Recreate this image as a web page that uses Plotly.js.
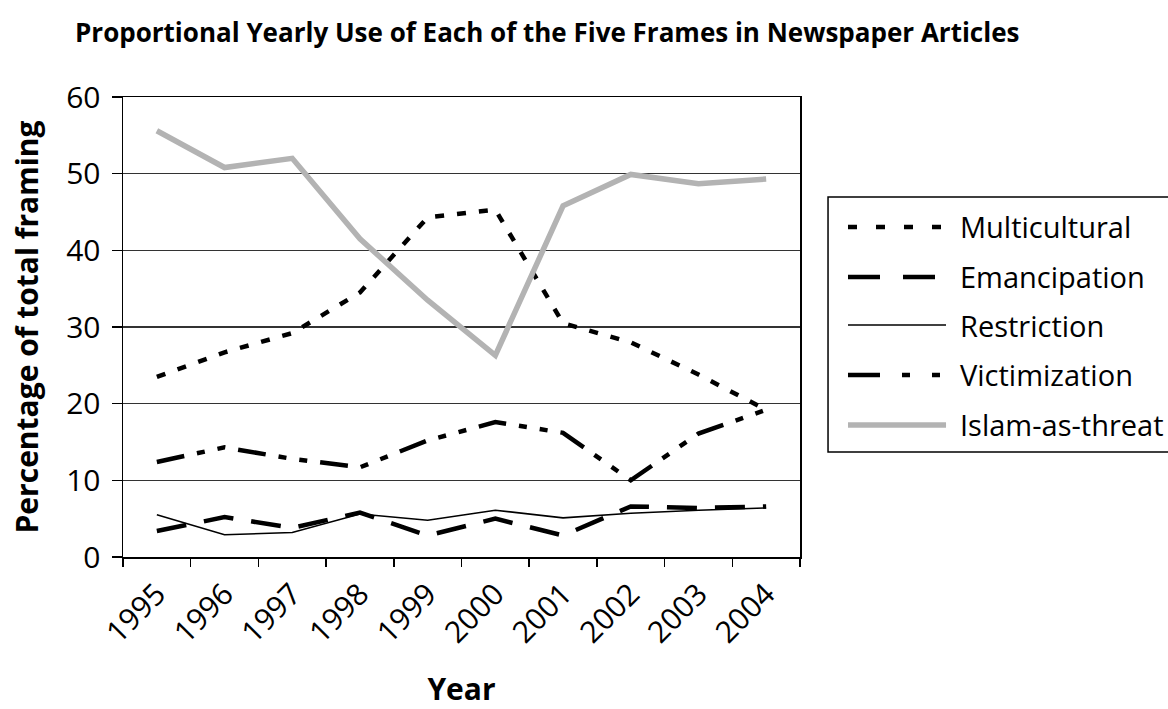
<!DOCTYPE html>
<html>
<head>
<meta charset="utf-8">
<script src="https://cdn.plot.ly/plotly-3.0.1.min.js"></script>
<style>html,body{margin:0;padding:0;background:#fff;}#chart{width:1168px;height:709px;}</style>
</head>
<body>
<div id="chart"></div>
<script>
const years = ["1995","1996","1997","1998","1999","2000","2001","2002","2003","2004"];
const multicultural = [23.5, 26.7, 29.2, 34.5, 44.3, 45.3, 30.5, 28.0, 23.8, 19.2];
const emancipation  = [3.4, 5.2, 3.8, 5.8, 2.8, 5.0, 2.8, 6.6, 6.4, 6.6];
const restriction   = [5.5, 2.9, 3.2, 5.6, 4.8, 6.1, 5.1, 5.7, 6.1, 6.4];
const victimization = [12.4, 14.3, 12.8, 11.7, 15.2, 17.6, 16.2, 10.0, 16.1, 19.2];
const islamThreat   = [55.6, 50.8, 52.0, 41.5, 33.5, 26.3, 45.8, 49.9, 48.7, 49.3];
const seriesNames = ["Multicultural","Emancipation","Restriction","Victimization","Islam-as-threat"];

const FONT = "Open Sans, Noto Sans, sans-serif";
const styles = [
  {color:"#000", width:4.5, dash:"9px,13px"},
  {color:"#000", width:4.5, dash:"30px,18px"},
  {color:"#000", width:1.6, dash:"solid"},
  {color:"#000", width:4.5, dash:"28px,13px,8px,13px,8px,13px"},
  {color:"#b3b3b3", width:5.5, dash:"solid"}
];
const legendStyles = [
  {color:"#000", width:4.5, dash:"9px,19px"},
  {color:"#000", width:4.5, dash:"32px,23px"},
  {color:"#000", width:1.6, dash:"solid"},
  {color:"#000", width:4.5, dash:"32px,22px,8px,22px,8px,22px"},
  {color:"#b3b3b3", width:5.5, dash:"solid"}
];
const allSeries = [multicultural, emancipation, restriction, victimization, islamThreat];

const traces = allSeries.map((vals, i) => ({
  type: "scatter", mode: "lines", x: years, y: vals, name: seriesNames[i],
  line: {color: styles[i].color, width: styles[i].width, dash: styles[i].dash},
  showlegend: false, hoverinfo: "skip"
}));

// manual legend (decoration)
const rowY = [0.7174, 0.6087, 0.5043, 0.3957, 0.2870];
const shapes = [{type:"rect", xref:"paper", yref:"paper", x0:1.0414, x1:1.56, y0:0.228, y1:0.7826,
  line:{color:"#000", width:1.5}, fillcolor:"rgba(0,0,0,0)"}];
const annotations = [];
seriesNames.forEach((n, i) => {
  shapes.push({type:"line", xref:"paper", yref:"paper", x0:1.0709, x1:1.2157, y0:rowY[i], y1:rowY[i],
    line:{color:legendStyles[i].color, width:legendStyles[i].width, dash:legendStyles[i].dash}});
  annotations.push({xref:"paper", yref:"paper", x:1.2334, y:rowY[i], xanchor:"left", yanchor:"middle",
    text:n, showarrow:false, font:{family:FONT, size:29, color:"#000"}});
});

const layout = {
  width: 1168, height: 709,
  margin: {l:123, r:368, t:97, b:152},
  paper_bgcolor: "#fff", plot_bgcolor: "#fff",
  showlegend: false,
  title: {text: "<b>Proportional Yearly Use of Each of the Five Frames in Newspaper Articles</b>",
    font: {family: FONT, size: 26, color:"#000"}, x: 75/1168, xanchor: "left", y: 0.953, yanchor: "middle"},
  xaxis: {
    type: "category", range: [-0.5, 9.5], tickson: "boundaries",
    ticks: "outside", ticklen: 8, tickcolor: "#000", tickwidth: 1.5,
    tickangle: -45, tickfont: {family: FONT, size: 30, color:"#000"}, ticklabelstandoff: 6,
    showline: true, linecolor: "#000", linewidth: 1.5, mirror: true,
    showgrid: false, zeroline: false,
    title: {text: "<b>Year</b>", font: {family: FONT, size: 30, color:"#000"}, standoff: 39}
  },
  yaxis: {
    range: [0, 60], dtick: 10, tick0: 0,
    ticks: "outside", ticklen: 10, tickcolor: "#000", tickwidth: 1.5,
    tickfont: {family: FONT, size: 30, color:"#000"}, ticklabelstandoff: 5,
    showline: true, linecolor: "#000", linewidth: 1.5, mirror: true,
    showgrid: true, gridcolor: "#333", gridwidth: 1.3, zeroline: false,
    title: {text: "<b>Percentage of total framing</b>", font: {family: FONT, size: 30, color:"#000"}, standoff: 18}
  },
  shapes: shapes,
  annotations: annotations
};
Plotly.newPlot("chart", traces, layout, {displayModeBar: false, staticPlot: true});
</script>
</body>
</html>
